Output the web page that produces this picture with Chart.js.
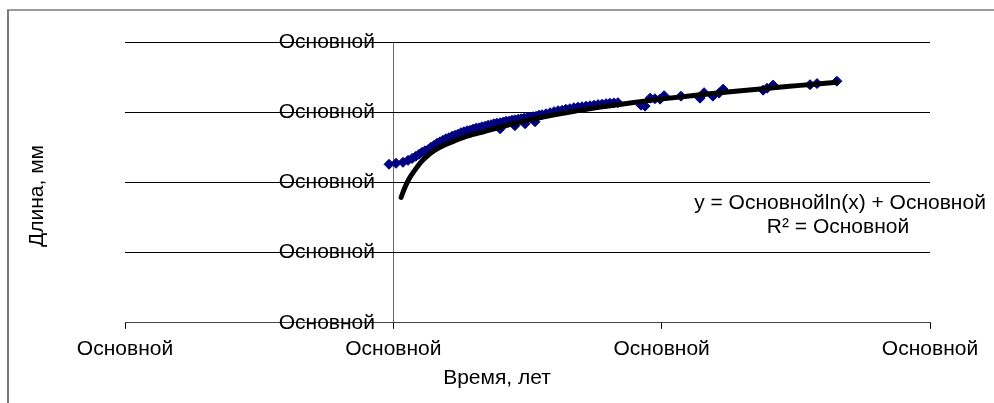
<!DOCTYPE html>
<html>
<head>
<meta charset="utf-8">
<script src="https://cdn.jsdelivr.net/npm/chart.js@4/dist/chart.umd.min.js"></script>
<style>
  html, body { margin: 0; padding: 0; background: #fff; }
  #chart { display: block; }
</style>
</head>
<body>
<canvas id="chart" width="994" height="403"></canvas>
<script>
// Measured specimens: age (years) and length (mm)
const years = [
  9.84, 10.10, 10.36, 10.55, 10.70, 10.84, 10.96, 11.07, 11.18, 11.29,
  11.40, 11.52, 11.63, 11.74, 11.85, 11.96, 12.07, 12.19, 12.30, 12.41,
  12.52, 12.63, 12.75, 12.86, 12.97, 13.08, 13.19, 13.30, 13.42, 13.53,
  13.64, 13.75, 13.86, 13.98, 14.09, 14.20, 14.31, 14.42, 14.53, 14.65,
  14.76, 14.87, 14.98, 15.09, 15.21, 15.32, 15.43, 15.54, 15.69, 15.84,
  15.99, 16.14, 16.29, 16.43, 16.58, 16.73, 16.88, 17.03, 17.18, 17.33,
  17.48, 17.63, 17.78, 17.93, 18.07, 18.22, 18.37,
  13.98, 14.53, 14.91, 15.28,
  19.23, 19.38, 19.57, 19.75, 19.94, 20.09, 20.72, 21.43, 21.58, 21.91,
  22.14, 22.29, 23.78, 23.93, 24.15, 25.53, 25.79, 26.53
];
const lengths = [
  112.9, 113.6, 114.3, 115.7, 117.1, 118.6, 120.0, 121.4, 122.5, 123.2,
  125.0, 126.4, 127.9, 128.9, 130.0, 131.1, 131.8, 132.9, 133.6, 134.3,
  135.4, 136.1, 136.8, 137.1, 137.9, 138.6, 138.9, 139.6, 140.0, 140.7,
  141.1, 141.8, 142.1, 142.5, 142.9, 143.6, 143.6, 144.3, 144.6, 145.0,
  145.4, 145.7, 146.1, 146.4, 146.8, 147.1, 147.9, 148.2, 148.9, 149.6,
  150.4, 151.1, 151.4, 152.1, 152.5, 153.2, 153.6, 153.9, 154.3, 154.6,
  155.0, 155.4, 155.7, 156.1, 156.4, 156.6, 156.8,
  138.2, 140.4, 141.8, 143.2,
  155.0, 154.3, 160.0, 159.6, 159.3, 161.8, 161.4, 160.0, 163.9, 161.4,
  163.6, 166.4, 165.7, 167.1, 169.3, 169.6, 170.4, 172.1
];

// Logarithmic trend line, sampled along the fitted curve
const trendYears = [
  10.29, 10.43, 10.62, 10.81, 10.99, 11.25, 11.55, 11.93, 12.34, 12.75,
  13.42, 13.98, 14.72, 15.47, 16.21, 16.96, 17.70, 18.82, 19.94, 21.43,
  22.55, 23.67, 25.16, 26.53
];
const trendLengths = [
  89.3, 96.4, 103.6, 108.9, 113.6, 118.6, 122.9, 126.8, 130.0, 132.9,
  136.4, 139.3, 142.9, 146.1, 148.9, 151.3, 153.6, 156.6, 159.3, 162.4,
  164.6, 166.6, 169.1, 171.4
];

// Axis tick captions
const xTickLabels = ['Основной', 'Основной', 'Основной', 'Основной'];
const yTickLabels = ['Основной', 'Основной', 'Основной', 'Основной', 'Основной'];

const xTitle = 'Время, лет';
const yTitle = 'Длина, мм';
const equationLines = ['y = Основнойln(x) + Основной', 'R² = Основной'];

// The vertical axis crosses the time axis at this age
const Y_AXIS_CROSS = 10;

const FONT = '"Liberation Sans", Arial, sans-serif';
const FONT_SIZE = 21;

// Frame, axis titles and trend-line equation
const annotations = {
  id: 'annotations',
  beforeDraw(chart) {
    const ctx = chart.ctx;
    ctx.save();
    ctx.strokeStyle = '#7a7a7a';
    ctx.lineWidth = 2;
    ctx.beginPath();
    ctx.moveTo(8, 10);
    ctx.lineTo(8, chart.height);
    ctx.stroke();
    ctx.lineWidth = 1.5;
    ctx.beginPath();
    ctx.moveTo(7, 10);
    ctx.lineTo(chart.width, 10);
    ctx.stroke();
    ctx.restore();
  },
  afterDraw(chart) {
    const ctx = chart.ctx;
    ctx.save();
    ctx.fillStyle = '#000';
    ctx.font = FONT_SIZE + 'px ' + FONT;
    ctx.textAlign = 'center';
    ctx.textBaseline = 'middle';
    ctx.fillText(xTitle, 497, 378);
    ctx.fillText(equationLines[0], 840, 203);
    ctx.fillText(equationLines[1], 838, 227);
    ctx.translate(37, 196);
    ctx.rotate(-Math.PI / 2);
    ctx.fillText(yTitle, 0, 0);
    ctx.restore();
  }
};

Chart.defaults.font.family = FONT;
Chart.defaults.font.size = FONT_SIZE;
Chart.defaults.color = '#000';

new Chart(document.getElementById('chart'), {
  type: 'scatter',
  data: {
    datasets: [
      {
        type: 'line',
        label: 'trend',
        data: trendYears.map((x, i) => ({ x, y: trendLengths[i] })),
        borderColor: '#000',
        borderWidth: 5,
        borderCapStyle: 'round',
        pointRadius: 0,
        fill: false,
        cubicInterpolationMode: 'monotone',
        order: 0
      },
      {
        label: 'length',
        data: years.map((x, i) => ({ x, y: lengths[i] })),
        pointStyle: 'rectRot',
        pointRadius: 5,
        pointBackgroundColor: '#000080',
        pointBorderColor: '#000080',
        pointBorderWidth: 1,
        order: 1
      }
    ]
  },
  options: {
    responsive: false,
    animation: false,
    devicePixelRatio: 1,
    layout: { padding: { left: 125, right: 64, top: 42, bottom: 33 } },
    plugins: {
      legend: { display: false },
      tooltip: { enabled: false }
    },
    scales: {
      x: {
        type: 'linear',
        position: 'bottom',
        min: 0,
        max: 30,
        ticks: {
          stepSize: 10,
          maxRotation: 0,
          autoSkip: false,
          padding: 8,
          callback: (v, i) => xTickLabels[i]
        },
        grid: {
          // only the vertical axis line is drawn across the plot
          drawOnChartArea: true,
          color: (c) => (c.tick && c.tick.value === Y_AXIS_CROSS ? '#6a6a6a' : 'rgba(0,0,0,0)'),
          tickColor: '#000',
          tickLength: 6,
          lineWidth: 1
        },
        border: { display: true, color: '#444', width: 1 }
      },
      y: {
        type: 'linear',
        position: 'center',
        min: 0,
        max: 200,
        ticks: {
          stepSize: 50,
          padding: 2.5,
          callback: (v, i) => yTickLabels[i]
        },
        grid: {
          color: '#000',
          lineWidth: 1,
          drawTicks: true,
          tickLength: 150
        },
        border: { display: false }
      }
    }
  },
  plugins: [annotations]
});
</script>
</body>
</html>
